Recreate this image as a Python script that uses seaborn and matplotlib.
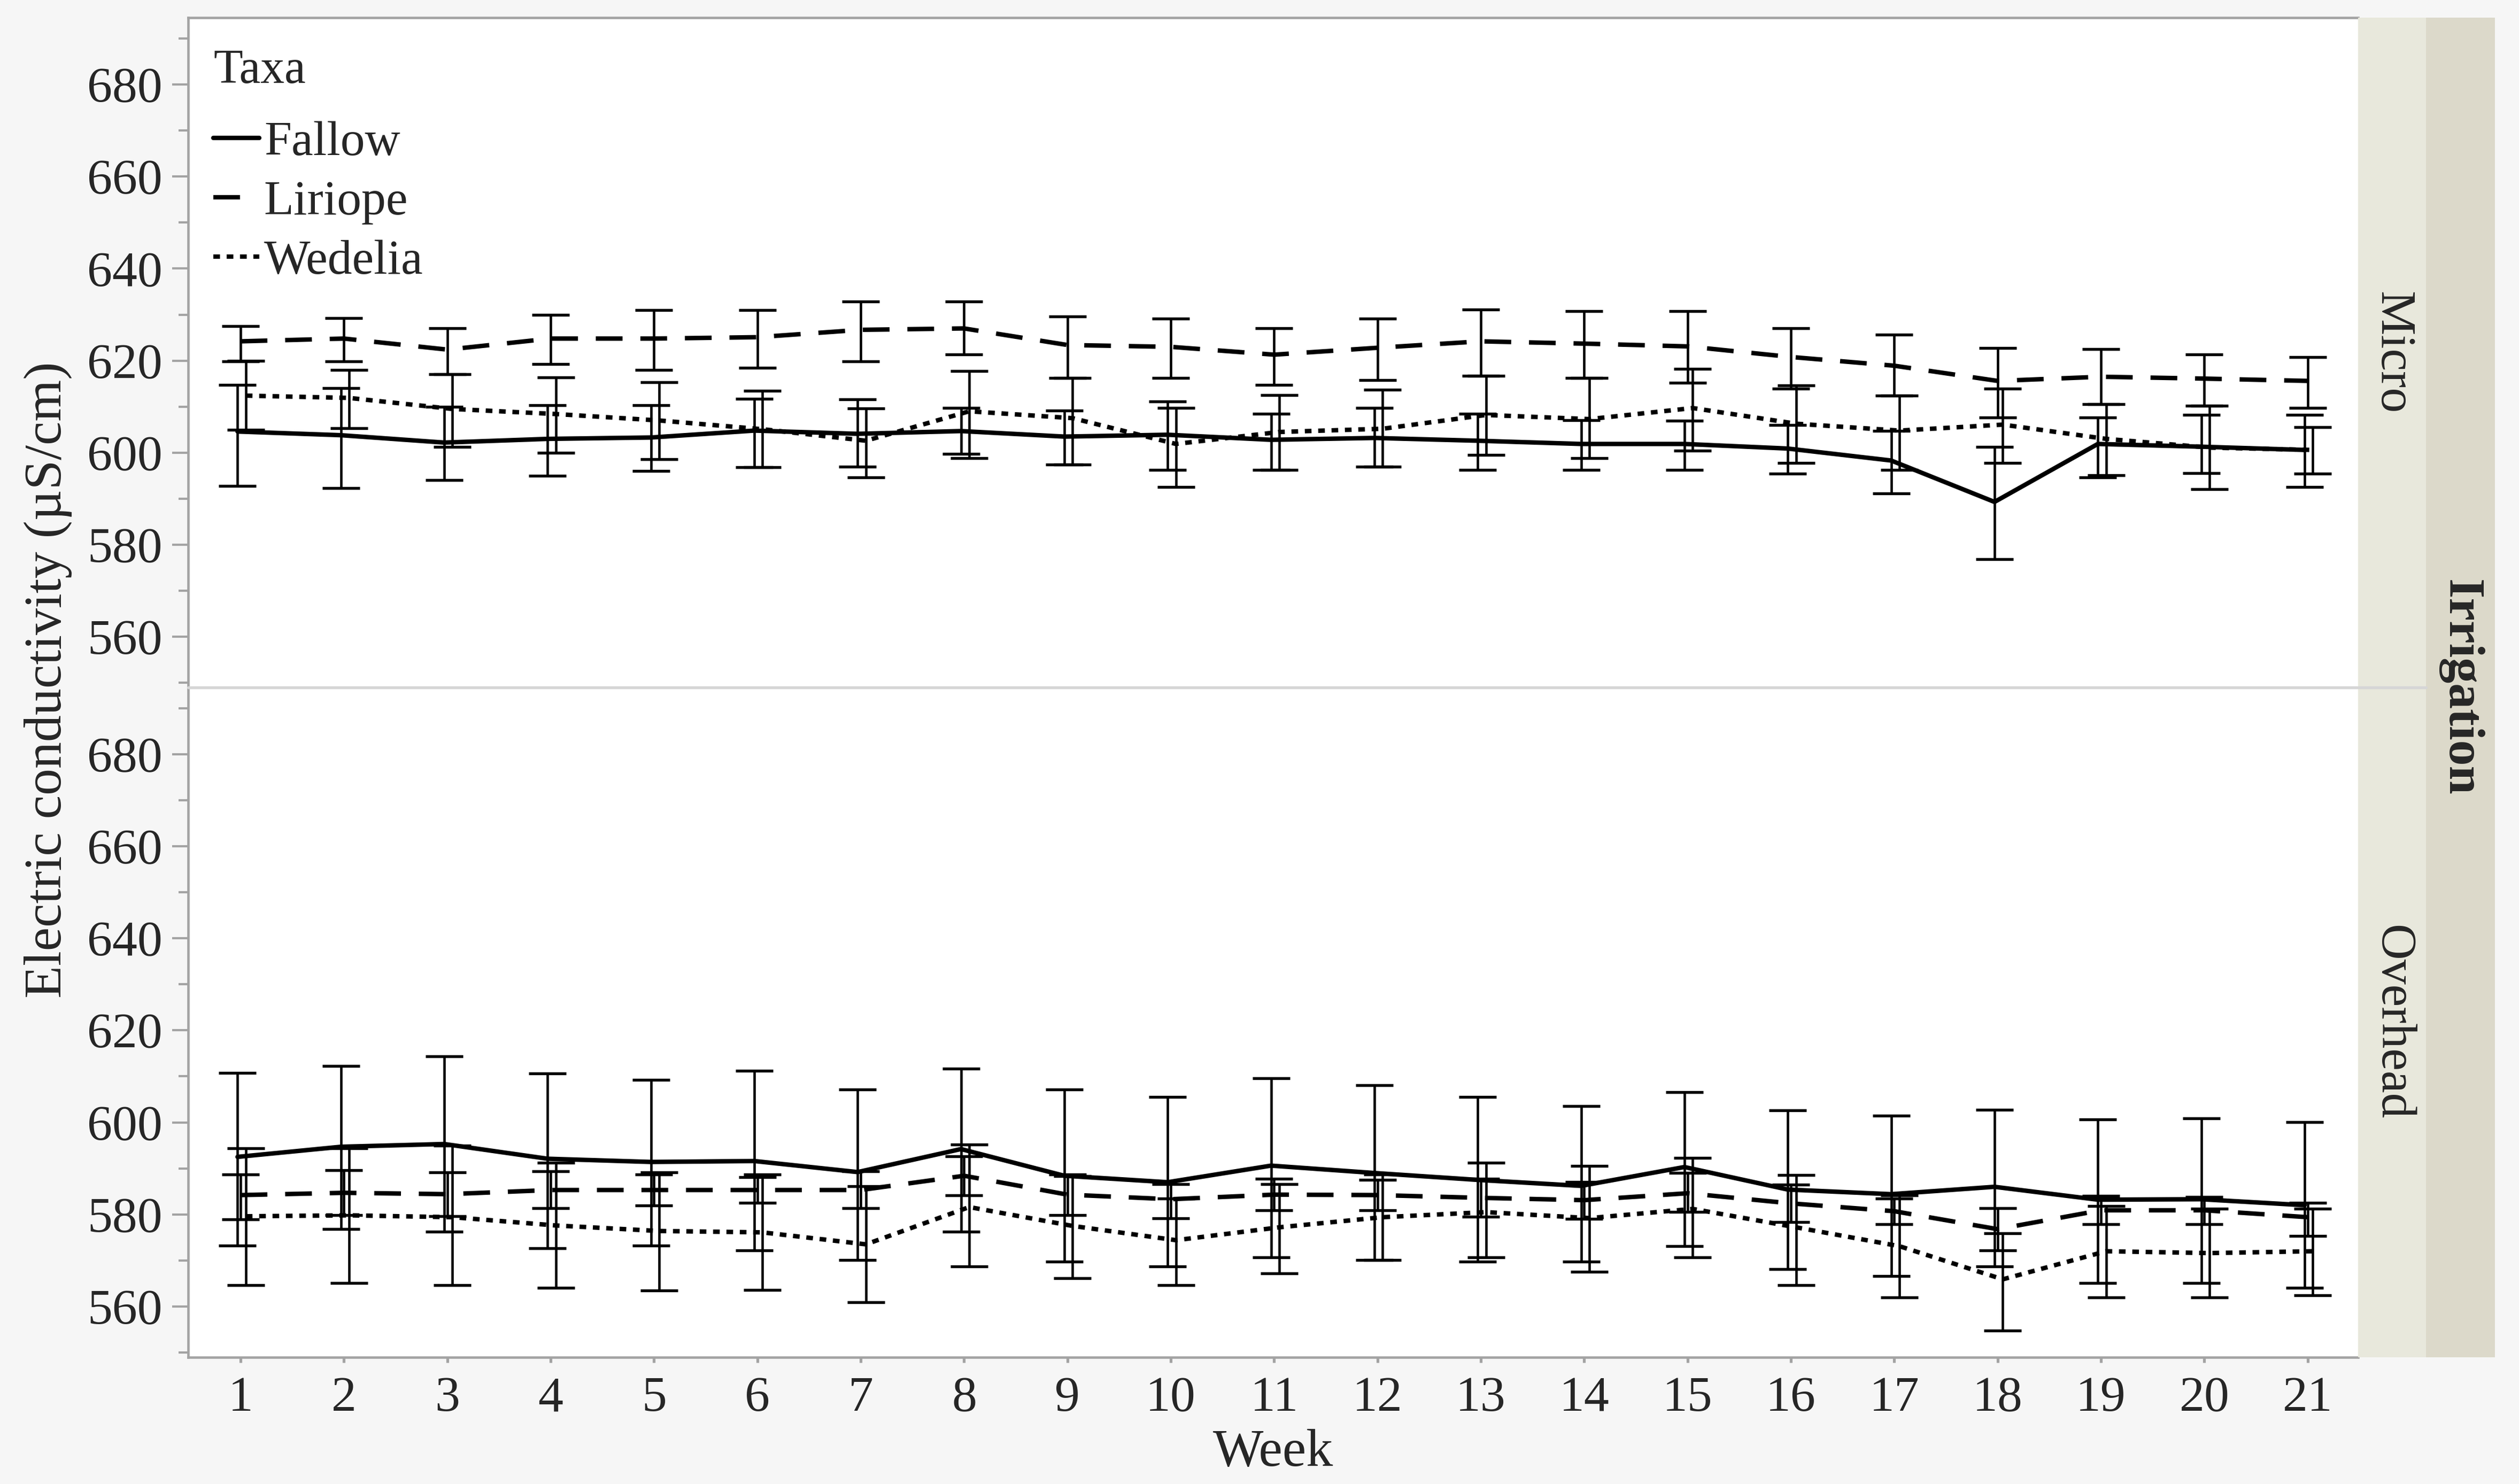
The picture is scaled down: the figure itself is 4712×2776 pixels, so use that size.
import numpy as np
import pandas as pd
import seaborn as sns
import matplotlib.pyplot as plt
from matplotlib.lines import Line2D
from matplotlib.ticker import MultipleLocator

weeks = list(range(1, 22))
taxa = ["Fallow", "Liriope", "Wedelia"]
irrigation = ["Micro", "Overhead"]

# Micro irrigation (means and interval ends, uS/cm)
micro_fallow = [604.6, 603.8, 602.2, 603.0, 603.3, 604.8, 604.1, 604.7, 603.5, 603.9, 602.8,
                603.2, 602.6, 601.9, 601.9, 600.9, 598.3, 589.3, 601.9, 601.3, 600.6]
micro_fallow_lo = [592.8, 592.3, 594.0, 595.0, 596.0, 596.8, 596.9, 599.8, 597.4, 596.3, 596.3,
                   596.9, 596.3, 596.3, 596.3, 595.4, 591.2, 576.9, 594.6, 595.6, 592.6]
micro_fallow_hi = [614.7, 614.0, 610.0, 610.3, 610.3, 611.7, 611.6, 609.7, 609.1, 611.1, 608.5,
                   609.7, 608.5, 607.1, 606.9, 606.0, 604.7, 601.3, 607.6, 608.2, 608.2]

micro_liriope = [624.2, 624.8, 622.4, 624.8, 624.8, 625.1, 626.7, 627.0, 623.4, 623.0, 621.3,
                 622.8, 624.2, 623.7, 623.1, 620.8, 618.9, 615.6, 616.5, 616.1, 615.6]
micro_liriope_lo = [619.9, 619.9, 617.0, 619.3, 618.0, 618.4, 619.8, 621.4, 616.2, 616.2, 614.7,
                    615.8, 616.7, 616.2, 615.2, 613.9, 612.4, 607.6, 610.6, 610.2, 609.7]
micro_liriope_hi = [627.5, 629.2, 627.0, 630.0, 631.0, 631.0, 632.8, 632.8, 629.6, 629.1, 627.0,
                    629.1, 631.1, 630.8, 630.8, 627.0, 625.6, 622.8, 622.5, 621.4, 620.8]

micro_wedelia = [612.4, 611.9, 609.5, 608.4, 607.0, 605.1, 602.6, 609.0, 607.5, 601.9, 604.5,
                 605.2, 608.2, 607.3, 609.7, 606.3, 604.8, 606.1, 603.0, 601.1, 600.6]
micro_wedelia_lo = [605.0, 605.3, 601.2, 600.0, 598.6, 596.8, 594.6, 598.8, 597.4, 592.6, 596.3,
                    596.9, 599.5, 598.8, 600.4, 597.8, 596.3, 597.8, 595.1, 592.1, 595.4]
micro_wedelia_hi = [620.0, 618.0, 617.0, 616.4, 615.3, 613.4, 609.6, 617.8, 616.2, 609.7, 612.5,
                    613.7, 616.7, 616.2, 618.2, 614.6, 612.4, 613.9, 610.6, 610.2, 605.6]

# Overhead irrigation
over_fallow = [592.5, 594.7, 595.3, 592.1, 591.4, 591.6, 589.2, 594.2, 588.4, 587.0, 590.6,
               589.0, 587.5, 586.2, 590.3, 585.4, 584.4, 586.0, 583.2, 583.3, 582.0]
over_fallow_lo = [573.2, 576.8, 576.3, 572.7, 573.2, 572.2, 570.1, 576.3, 569.8, 568.7, 570.7,
                  570.1, 569.8, 569.8, 573.1, 568.1, 566.6, 568.7, 565.1, 565.1, 564.0]
over_fallow_hi = [610.7, 612.2, 614.3, 610.6, 609.2, 611.2, 607.1, 611.7, 607.1, 605.5, 609.6,
                  608.1, 605.5, 603.5, 606.6, 602.6, 601.5, 602.7, 600.6, 600.9, 600.1]

over_liriope = [584.2, 584.7, 584.4, 585.3, 585.3, 585.3, 585.3, 588.4, 584.3, 583.3, 584.3,
                584.2, 583.6, 583.1, 584.6, 582.4, 580.7, 576.8, 580.9, 580.9, 579.4]
over_liriope_lo = [578.9, 579.8, 579.6, 581.4, 582.0, 582.5, 581.4, 584.2, 579.9, 579.2, 580.9,
                   580.9, 579.5, 579.0, 580.5, 578.3, 577.9, 572.2, 577.9, 577.9, 575.3]
over_liriope_hi = [588.7, 589.6, 589.2, 589.4, 588.7, 588.1, 589.4, 592.6, 588.7, 586.6, 587.7,
                   587.5, 587.7, 587.0, 589.0, 586.5, 583.5, 581.4, 584.0, 583.8, 582.5]

over_wedelia = [579.6, 579.8, 579.4, 577.6, 576.4, 576.1, 573.5, 581.6, 577.5, 574.4, 577.2,
                579.4, 580.5, 579.2, 581.2, 577.2, 573.1, 565.9, 572.0, 571.6, 572.0]
over_wedelia_lo = [564.6, 565.1, 564.6, 564.0, 563.5, 563.6, 560.9, 568.7, 566.1, 564.6, 567.2,
                   570.1, 570.7, 567.5, 570.7, 564.6, 562.0, 554.8, 562.0, 562.0, 562.4]
over_wedelia_hi = [594.4, 594.4, 594.9, 591.2, 589.2, 588.7, 586.1, 595.2, 588.3, 583.5, 586.6,
                   588.7, 591.2, 590.5, 592.3, 588.6, 584.2, 575.9, 581.8, 581.2, 581.2]

series = {
    ("Micro", "Fallow"): (micro_fallow, micro_fallow_lo, micro_fallow_hi),
    ("Micro", "Liriope"): (micro_liriope, micro_liriope_lo, micro_liriope_hi),
    ("Micro", "Wedelia"): (micro_wedelia, micro_wedelia_lo, micro_wedelia_hi),
    ("Overhead", "Fallow"): (over_fallow, over_fallow_lo, over_fallow_hi),
    ("Overhead", "Liriope"): (over_liriope, over_liriope_lo, over_liriope_hi),
    ("Overhead", "Wedelia"): (over_wedelia, over_wedelia_lo, over_wedelia_hi),
}

# small horizontal dodge so the error bars do not sit exactly on top of each other
dodge = {"Fallow": -0.03, "Liriope": 0.0, "Wedelia": 0.05}

rows = []
for (irr, tx), (m, lo, hi) in series.items():
    for w, a, b, c in zip(weeks, m, lo, hi):
        rows.append({"Irrigation": irr, "Taxa": tx, "Week": w + dodge[tx],
                     "EC": a, "lo": b, "hi": c})
df = pd.DataFrame(rows)

sns.set_theme(style="white")
plt.rcParams["font.family"] = ["Liberation Serif", "DejaVu Serif"]

bg = "#f6f6f6"
spine_col = "#a3a3a3"
fig = plt.figure(figsize=(4712 / 300, 2776 / 300), dpi=300)
fig.patch.set_facecolor(bg)

left, width = 0.0746, 0.8616
top_panel = [left, 0.5368, width, 0.4512]
bot_panel = [left, 0.0855, width, 0.4513]
ax_top = fig.add_axes(top_panel)
ax_bot = fig.add_axes(bot_panel, sharex=ax_top)

dash_map = {"Fallow": "", "Liriope": (6.0, 4.0), "Wedelia": (1.5, 1.5)}

for ax, irr in [(ax_top, "Micro"), (ax_bot, "Overhead")]:
    sub = df[df["Irrigation"] == irr]
    sns.lineplot(data=sub, x="Week", y="EC", style="Taxa", style_order=taxa,
                 dashes=dash_map, color="black", linewidth=2.0, estimator=None,
                 errorbar=None, legend=(irr == "Micro"), ax=ax)
    for tx in taxa:
        s = sub[sub["Taxa"] == tx]
        ax.errorbar(s["Week"], s["EC"], yerr=[s["EC"] - s["lo"], s["hi"] - s["EC"]],
                    fmt="none", ecolor="black", elinewidth=1.1, capsize=8.3, capthick=1.3)
    ax.set_facecolor("white")
    ax.set_xlim(0.49, 21.49)
    ax.set_ylim(549, 694.5)
    ax.yaxis.set_major_locator(MultipleLocator(20))
    ax.yaxis.set_minor_locator(MultipleLocator(10))
    ax.tick_params(axis="y", which="major", length=7.2, width=1.0, color=spine_col,
                   pad=4.3, labelsize=22.5, left=True)
    ax.tick_params(axis="y", which="minor", length=4.3, width=1.0, color=spine_col, left=True)
    ax.set_xlabel("")
    ax.set_ylabel("")
    for sp in ax.spines.values():
        sp.set_color(spine_col)
        sp.set_linewidth(1.1)
    ax.spines["right"].set_visible(False)

ax_top.spines["bottom"].set_visible(False)
ax_bot.spines["top"].set_visible(False)
ax_top.tick_params(axis="x", bottom=False, labelbottom=False)
ax_bot.set_xticks(weeks)
ax_bot.set_xticklabels([str(w) for w in weeks])
ax_bot.tick_params(axis="x", length=2.5, color=spine_col, pad=6, labelsize=22.5, bottom=True)

# legend: title as its own text so the gap above the entries matches
h, l = ax_top.get_legend_handles_labels()
ax_top.text(0.0118, 0.921, "Taxa", transform=ax_top.transAxes, ha="left", va="center",
            fontsize=21.5)
leg = ax_top.legend(h, l, loc="upper left", bbox_to_anchor=(0.0118, 0.846),
                    frameon=False, fontsize=22, handlelength=0.93,
                    handletextpad=0.1, labelspacing=0.3, borderpad=0, borderaxespad=0)
# one whole dash only in the Liriope key
leg.get_lines()[1].set_dashes((6.0, 5.5))

# divider between the two panels, across the plot area and inner strip
y_div = 0.5368
strip_in_x, strip_in_w = 0.9362, 0.0268
strip_out_x, strip_out_w = 0.9630, 0.0274
fig.add_artist(Line2D([left, strip_in_x + strip_in_w], [y_div, y_div],
                      transform=fig.transFigure, color="#d6d6d6", linewidth=1.3, zorder=5))

# facet strips
for pos, lab in [(top_panel, "Micro"), (bot_panel, "Overhead")]:
    sax = fig.add_axes([strip_in_x, pos[1], strip_in_w, pos[3]])
    sax.set_facecolor("#e8e8dc")
    sax.set_xticks([])
    sax.set_yticks([])
    for sp in sax.spines.values():
        sp.set_visible(False)
    sax.text(0.5, 0.5, lab, rotation=-90, ha="center", va="center",
             fontsize=22.5, transform=sax.transAxes)

oax = fig.add_axes([strip_out_x, bot_panel[1], strip_out_w, top_panel[1] + top_panel[3] - bot_panel[1]])
oax.set_facecolor("#dcd9ca")
oax.set_xticks([])
oax.set_yticks([])
for sp in oax.spines.values():
    sp.set_visible(False)
oax.text(0.5, 0.5, "Irrigation", rotation=-90, ha="center", va="center",
         fontsize=23, fontweight="bold", transform=oax.transAxes)

fig.text(0.019, 0.542, "Electric conductivity (µS/cm)", rotation=90,
         ha="center", va="center", fontsize=24)
fig.text(left + width / 2, 0.021, "Week", ha="center", va="center", fontsize=24)

fig.savefig("out.png", dpi=300, facecolor=bg)
